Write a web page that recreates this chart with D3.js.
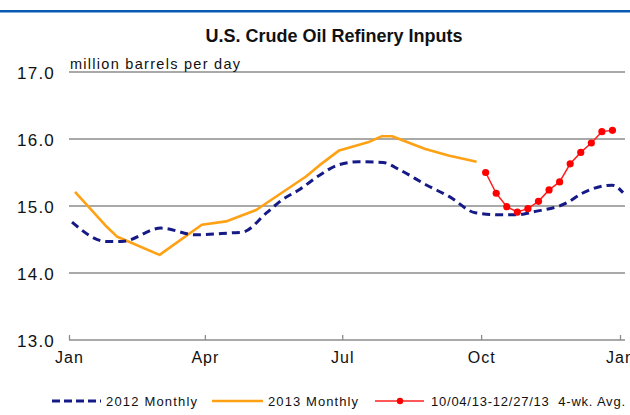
<!DOCTYPE html>
<html>
<head>
<meta charset="utf-8">
<script src="https://cdn.jsdelivr.net/npm/d3@7"></script>
<style>
  html, body { margin: 0; padding: 0; background: #fff; }
  svg { display: block; }
  text { font-family: "Liberation Sans Narrow", "Arial Narrow", "Liberation Sans", Arial, sans-serif; fill: #111; }
</style>
</head>
<body>
<svg id="chart" width="630" height="415"></svg>
<script>
// ---- data ----
const title = "U.S. Crude Oil Refinery Inputs";
const unitLabel = "million barrels per day";
const yTicks = [13, 14, 15, 16, 17];
const xTickLabels = ["Jan", "Apr", "Jul", "Oct", "Jan"];
const xTickDates = ["2013-01-01", "2013-04-01", "2013-07-01", "2013-10-01", "2014-01-01"];
const seriesNames = ["2012 Monthly", "2013 Monthly", "10/04/13-12/27/13  4-wk. Avg."];

const dates2012 = ["2013-01-03","2013-01-26","2013-02-05","2013-03-03","2013-03-26","2013-04-19","2013-04-26",
  "2013-05-12","2013-05-22","2013-06-03","2013-06-16","2013-06-28","2013-07-12","2013-07-28","2013-08-08",
  "2013-08-26","2013-09-10","2013-09-27","2013-10-13","2013-10-26","2013-11-04","2013-11-27","2013-12-07",
  "2013-12-27","2014-01-03"];
const values2012 = [14.76,14.47,14.47,14.67,14.57,14.60,14.61,
  14.90,15.09,15.25,15.46,15.61,15.66,15.65,15.54,
  15.31,15.14,14.90,14.87,14.87,14.91,15.05,15.19,
  15.31,15.20];

const dates2013 = ["2013-01-05","2013-01-26","2013-02-02","2013-03-02","2013-03-30","2013-04-15","2013-05-05",
  "2013-06-07","2013-06-16","2013-06-29","2013-07-18","2013-07-27","2013-08-03","2013-08-25","2013-09-10","2013-09-28"];
const values2013 = [15.21,14.69,14.54,14.27,14.72,14.77,14.94,
  15.44,15.61,15.83,15.95,16.04,16.04,15.85,15.75,15.66];

const datesWeekly = ["2013-10-04","2013-10-11","2013-10-18","2013-10-25","2013-11-01","2013-11-08","2013-11-15",
  "2013-11-22","2013-11-29","2013-12-06","2013-12-13","2013-12-20","2013-12-27"];
const valuesWeekly = [15.50,15.19,14.99,14.91,14.96,15.07,15.24,15.36,15.63,15.80,15.94,16.11,16.13];

// ---- chart ----
const parse = d3.utcParse("%Y-%m-%d");
const svg = d3.select("#chart");
const x = d3.scaleUtc().domain([parse("2013-01-01"), parse("2014-01-01")]).range([69, 620]);
const y = d3.scaleLinear().domain([13, 17]).range([340, 72]);

// top blue border
svg.append("rect").attr("x", 0).attr("y", 10).attr("width", 630).attr("height", 2.5).attr("fill", "#0a5ab4");

// title
svg.append("text").attr("x", 334).attr("y", 42).attr("text-anchor", "middle")
  .style("font-weight", "bold").style("font-size", "18px").text(title);

// gridlines
svg.append("g").selectAll("line").data(yTicks.filter(d => d > 13)).join("line")
  .attr("x1", 69).attr("x2", 625).attr("y1", d => y(d)).attr("y2", d => y(d))
  .attr("stroke", "#8c8c8c").attr("stroke-width", 1.3);

// y axis labels
const yAxis = d3.axisLeft(y).tickValues(yTicks).tickFormat(d3.format(".1f")).tickSize(0).tickPadding(0);
const gy = svg.append("g").attr("transform", "translate(55,0)").call(yAxis);
gy.select(".domain").remove();
gy.selectAll("text").style("font-size", "17px").style("letter-spacing", "1.2px")
  .attr("font-family", null).attr("fill", "#111").attr("dy", "0.36em");

// x axis
const xAxis = d3.axisBottom(x).tickValues(xTickDates.map(parse))
  .tickFormat((d, i) => xTickLabels[i]).tickSizeInner(-5).tickSizeOuter(0).tickPadding(12);
const gx = svg.append("g").attr("transform", "translate(0,340)").call(xAxis);
gx.select(".domain").attr("d", "M69,0H625").attr("stroke", "#8c8c8c").attr("stroke-width", 1.3);
gx.selectAll(".tick line").attr("stroke", "#8c8c8c").attr("stroke-width", 1.3);
gx.selectAll("text").style("font-size", "16px").style("letter-spacing", "1px")
  .attr("font-family", null).attr("fill", "#111");

// unit label
svg.append("text").attr("x", 70).attr("y", 69).style("font-size", "14.5px")
  .attr("textLength", 170).attr("lengthAdjust", "spacing").text(unitLabel);

// lines
const line = d3.line().x(d => x(d[0])).y(d => y(d[1]));
const smooth = d3.line().x(d => x(d[0])).y(d => y(d[1])).curve(d3.curveMonotoneX);
const s2012 = dates2012.map((d, i) => [parse(d), values2012[i]]);
const s2013 = dates2013.map((d, i) => [parse(d), values2013[i]]);
const sWeek = datesWeekly.map((d, i) => [parse(d), valuesWeekly[i]]);

svg.append("path").datum(s2013).attr("d", line).attr("fill", "none")
  .attr("stroke", "#ffa114").attr("stroke-width", 2.6).attr("stroke-linejoin", "round");
svg.append("path").datum(s2012).attr("d", smooth).attr("fill", "none")
  .attr("stroke", "#151a86").attr("stroke-width", 3).attr("stroke-dasharray", "8,5");
svg.append("path").datum(sWeek).attr("d", line).attr("fill", "none")
  .attr("stroke", "#ff2020").attr("stroke-width", 1.5);
svg.append("g").selectAll("circle").data(sWeek).join("circle")
  .attr("cx", d => x(d[0])).attr("cy", d => y(d[1])).attr("r", 3.6).attr("fill", "#ff0000");

// legend
const ly = 401;
const legend = svg.append("g");
legend.append("line").attr("x1", 52).attr("x2", 101).attr("y1", ly).attr("y2", ly)
  .attr("stroke", "#151a86").attr("stroke-width", 3).attr("stroke-dasharray", "8,4");
legend.append("text").attr("x", 106).attr("y", ly + 5).style("font-size", "13px")
  .attr("textLength", 91).attr("lengthAdjust", "spacing").text(seriesNames[0]);
legend.append("line").attr("x1", 212).attr("x2", 263).attr("y1", ly).attr("y2", ly)
  .attr("stroke", "#ffa114").attr("stroke-width", 2.6);
legend.append("text").attr("x", 268).attr("y", ly + 5).style("font-size", "13px")
  .attr("textLength", 90).attr("lengthAdjust", "spacing").text(seriesNames[1]);
legend.append("line").attr("x1", 375).attr("x2", 424).attr("y1", ly).attr("y2", ly)
  .attr("stroke", "#ff2020").attr("stroke-width", 1.5);
legend.append("circle").attr("cx", 400).attr("cy", ly).attr("r", 3.2).attr("fill", "#ff0000");
legend.append("text").attr("x", 431).attr("y", ly + 5).style("font-size", "13px")
  .style("white-space", "pre").attr("textLength", 194).attr("lengthAdjust", "spacing").text(seriesNames[2]);
</script>
</body>
</html>
